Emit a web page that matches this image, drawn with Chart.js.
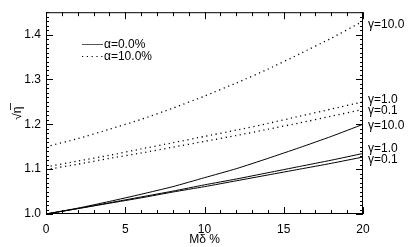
<!DOCTYPE html>
<html>
<head>
<meta charset="utf-8">
<script src="https://cdn.jsdelivr.net/npm/chart.js@4.4.0/dist/chart.umd.min.js"></script>
<style>
  html, body { margin: 0; padding: 0; background: #fff; }
  #wrap { width: 415px; height: 247px; }
</style>
</head>
<body>
<div id="wrap"><canvas id="etaChart" width="415" height="247"></canvas></div>
<script>
// M-delta (%) sample points
const mDelta = [0, 2, 4, 6, 8, 10, 12, 14, 16, 18, 20];

// alpha = 0.0 %
const a0g10  = [1.000, 1.013, 1.028, 1.044, 1.061, 1.081, 1.101, 1.124, 1.148, 1.173, 1.200];
const a0g1   = [1.000, 1.012, 1.025, 1.038, 1.051, 1.065, 1.078, 1.092, 1.106, 1.120, 1.135];
const a0g01  = [1.000, 1.012, 1.024, 1.036, 1.049, 1.061, 1.074, 1.087, 1.100, 1.113, 1.127];

// alpha = 10.0 %
const a10g10 = [1.150, 1.168, 1.189, 1.211, 1.236, 1.263, 1.292, 1.323, 1.357, 1.392, 1.430];
const a10g1  = [1.105, 1.118, 1.131, 1.145, 1.159, 1.173, 1.187, 1.202, 1.218, 1.234, 1.250];
const a10g01 = [1.099, 1.111, 1.124, 1.136, 1.149, 1.162, 1.175, 1.189, 1.203, 1.218, 1.233];

// gamma labels on the right edge and the value where each sits
const gammaLabels = ['\u03b3=10.0', '\u03b3=1.0', '\u03b3=0.1', '\u03b3=10.0', '\u03b3=1.0', '\u03b3=0.1'];
const gammaLabelAt = [1.422, 1.256, 1.231, 1.198, 1.146, 1.121];

const legendLabels = ['\u03b1=0.0%', '\u03b1=10.0%'];

const FONT = '"Liberation Sans", Arial, Helvetica, sans-serif';
const DOT = [1.2, 3.6];

function pts(ys) {
    return mDelta.map((x, i) => ({ x: x, y: ys[i] }));
}

function line(ys, dotted) {
    return {
        data: pts(ys),
        borderColor: '#000',
        borderWidth: dotted ? 1.3 : 1,
        borderDash: dotted ? DOT : [],
        pointRadius: 0,
        tension: 0.2,
        fill: false
    };
}

// inside ticks on all four sides, frame, legend and gamma labels
const decorPlugin = {
    id: 'decor',
    afterDraw(chart) {
        const ctx = chart.ctx;
        const a = chart.chartArea;
        const xs = chart.scales.x;
        const ys = chart.scales.y;
        ctx.save();
        ctx.strokeStyle = '#000';
        ctx.lineWidth = 1;
        ctx.strokeRect(a.left + 0.5, a.top + 0.5, a.right - a.left - 1, a.bottom - a.top - 1);

        ctx.beginPath();
        for (let v = 0; v <= 20; v++) {
            const px = Math.round(xs.getPixelForValue(v)) + 0.5;
            const len = v % 5 === 0 ? 7 : 4;
            ctx.moveTo(px, a.bottom); ctx.lineTo(px, a.bottom - len);
            ctx.moveTo(px, a.top); ctx.lineTo(px, a.top + len);
        }
        for (let k = 100; k <= 145; k++) {
            const py = Math.round(ys.getPixelForValue(k / 100)) + 0.5;
            const len = k % 10 === 0 ? 7 : 3;
            ctx.moveTo(a.left, py); ctx.lineTo(a.left + len, py);
            ctx.moveTo(a.right, py); ctx.lineTo(a.right - len, py);
        }
        ctx.stroke();

        // legend
        ctx.font = '12px ' + FONT;
        ctx.fillStyle = '#000';
        ctx.textBaseline = 'middle';
        const lx = 82, ly = [44, 56];
        ctx.strokeStyle = '#555';
        ctx.beginPath();
        ctx.moveTo(lx, ly[0] + 0.5); ctx.lineTo(lx + 21, ly[0] + 0.5);
        ctx.stroke();
        ctx.strokeStyle = '#000';
        ctx.setLineDash(DOT);
        ctx.beginPath();
        ctx.moveTo(lx, ly[1] + 0.5); ctx.lineTo(lx + 21, ly[1] + 0.5);
        ctx.stroke();
        ctx.setLineDash([]);
        ctx.textAlign = 'left';
        ctx.fillText(legendLabels[0], lx + 22, ly[0] + 1);
        ctx.fillText(legendLabels[1], lx + 22, ly[1] + 1);

        // gamma labels
        gammaLabels.forEach((t, i) => {
            ctx.fillText(t, a.right + 5, ys.getPixelForValue(gammaLabelAt[i]));
        });
        ctx.restore();
    }
};

const ctx = document.getElementById('etaChart').getContext('2d');
new Chart(ctx, {
    type: 'line',
    data: {
        datasets: [
            line(a0g10, false), line(a0g1, false), line(a0g01, false),
            line(a10g10, true), line(a10g1, true), line(a10g01, true)
        ]
    },
    options: {
        responsive: false,
        animation: false,
        layout: { padding: { top: -2, right: 52, left: 0, bottom: 0 } },
        plugins: { legend: { display: false }, tooltip: { enabled: false } },
        scales: {
            x: {
                type: 'linear',
                min: 0, max: 20,
                grid: { display: false, drawTicks: false },
                border: { display: false },
                ticks: { stepSize: 5, padding: 8, color: '#000', font: { family: FONT, size: 12 } },
                title: { display: true, text: 'M\u03b4 %', color: '#000', padding: { top: 1, bottom: 0 }, font: { family: FONT, size: 12 } },
                afterFit: s => { s.height = 33; }
            },
            y: {
                min: 1.0, max: 1.45,
                grid: { display: false, drawTicks: false },
                border: { display: false },
                ticks: {
                    stepSize: 0.1, padding: 5, color: '#000',
                    font: { family: FONT, size: 12 },
                    callback: v => (Math.abs(v * 10 - Math.round(v * 10)) < 1e-6 ? v.toFixed(1) : '')
                },
                title: { display: true, text: '\u221a\u03b7\u0305', color: '#000', padding: { top: 10, bottom: 0 }, font: { family: FONT, size: 12 } },
                afterFit: s => { s.width = 46; }
            }
        }
    },
    plugins: [decorPlugin]
});
</script>
</body>
</html>
